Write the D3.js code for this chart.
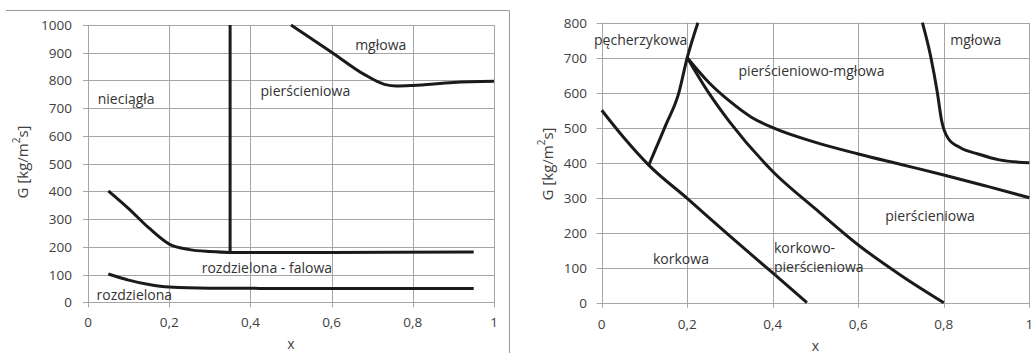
<!DOCTYPE html>
<html><head><meta charset="utf-8">
<script src="https://cdn.jsdelivr.net/npm/d3@7"></script>
<style>body{margin:0;background:#fff}svg{display:block}text{font-family:"Open Sans","Noto Sans",sans-serif}</style>
</head><body><svg id="c" width="1035" height="353"></svg>
<script>
// ---- data ----
const xTicks = [0, 0.2, 0.4, 0.6, 0.8, 1];
const leftYTicks = [0, 100, 200, 300, 400, 500, 600, 700, 800, 900, 1000];
const rightYTicks = [0, 100, 200, 300, 400, 500, 600, 700, 800];

// left chart boundaries
const leftSeparated = [[0.05,102],[0.1,80],[0.15,64],[0.2,55],[0.3,51],[0.5,50],[0.7,50],[0.95,50]];
const leftWavy = [[0.05,402],[0.1,338],[0.15,268],[0.2,210],[0.25,190],[0.3,183],[0.35,180],[0.6,180],[0.95,181]];
const leftVertical = [[0.35,1000],[0.35,180]];
const leftMist = [[0.5,1000],[0.6,902],[0.68,822],[0.73,786],[0.76,780],[0.8,782],[0.9,793],[1,797]];

// right chart boundaries
const rightSlug = [[0,550],[0.05,474],[0.11,393],[0.2,298],[0.3,190],[0.4,85],[0.48,0]];
const rightBubble = [[0.11,393],[0.15,508],[0.18,598],[0.2,700],[0.225,800]];
const rightAnnularMist = [[0.2,700],[0.25,630],[0.3,575],[0.35,530],[0.4,500],[0.5,458],[0.6,425],[0.7,395],[0.8,365],[0.9,333],[1,300]];
const rightSlugAnnular = [[0.2,700],[0.25,600],[0.3,515],[0.4,375],[0.5,268],[0.6,165],[0.7,78],[0.8,0]];
const rightMist = [[0.75,800],[0.77,700],[0.785,600],[0.795,520],[0.81,470],[0.84,442],[0.88,425],[0.93,408],[1,400]];

const leftLabels = [
  {t:"nieciągła", x:0.024, y:735},
  {t:"pierścieniowa", x:0.425, y:762},
  {t:"mgłowa", x:0.658, y:930},
  {t:"rozdzielona - falowa", x:0.28, y:127},
  {t:"rozdzielona", x:0.021, y:27}
];
const rightLabels = [
  {t:"pęcherzykowa", x:-0.018, y:752},
  {t:"pierścieniowo-mgłowa", x:0.32, y:663},
  {t:"mgłowa", x:0.815, y:752},
  {t:"pierścieniowa", x:0.663, y:250},
  {t:"korkowo-", x:0.403, y:159},
  {t:"pierścieniowa", x:0.403, y:103},
  {t:"korkowa", x:0.12, y:127}
];

const svg = d3.select("#c");
const GRID = "#a6a6a6", TXT = "#404040", LAB = "#333333", LINE = "#1a1a1a";
const fmt = d => d3.format(".1f")(d).replace(".0","").replace(".", ",");

// left frame
svg.append("path").attr("d","M6,10.5H509.5V353").attr("fill","none").attr("stroke","#9a9a9a").attr("stroke-width",1);

function chart(cfg){
  const x = d3.scaleLinear().domain([0,1]).range(cfg.xr);
  const y = d3.scaleLinear().domain([0,cfg.ymax]).range(cfg.yr);
  const g = svg.append("g");
  // grid
  g.selectAll(".vg").data(xTicks).join("line")
    .attr("x1",d=>Math.round(x(d))+0.5).attr("x2",d=>Math.round(x(d))+0.5)
    .attr("y1",y(cfg.ymax)).attr("y2",y(0)+5).attr("stroke",GRID);
  g.selectAll(".hg").data(cfg.yTicks).join("line")
    .attr("y1",d=>Math.round(y(d))+0.5).attr("y2",d=>Math.round(y(d))+0.5)
    .attr("x1",x(0)-5).attr("x2",x(1)).attr("stroke",GRID);
  // tick labels
  g.selectAll(".xl").data(xTicks).join("text")
    .attr("x",d=>x(d)).attr("y",cfg.xly).attr("text-anchor","middle").attr("dominant-baseline","central")
    .attr("font-size",13.5).attr("fill",TXT).text(fmt);
  g.selectAll(".yl").data(cfg.yTicks).join("text")
    .attr("x",cfg.ylx).attr("y",d=>y(d)).attr("text-anchor","end").attr("dominant-baseline","central")
    .attr("font-size",13.5).attr("fill",TXT).text(d=>d);
  // axis titles
  g.append("text").attr("x",(cfg.xr[0]+cfg.xr[1])/2).attr("y",cfg.xty).attr("text-anchor","middle")
    .attr("dominant-baseline","central").attr("font-size",14).attr("fill",TXT).text("x");
  const yt = g.append("text").attr("transform",`translate(${cfg.ytx},${cfg.yty}) rotate(-90)`)
    .attr("text-anchor","middle").attr("dominant-baseline","central").attr("font-size",15).attr("fill",TXT);
  yt.append("tspan").text("G [kg/m");
  yt.append("tspan").attr("dy",-6).attr("font-size",10).text("2");
  yt.append("tspan").attr("dy",6).text("s]");
  // curves
  const line = d3.line().x(d=>x(d[0])).y(d=>y(d[1]));
  cfg.series.forEach(s=>{
    g.append("path").attr("d",line.curve(s.curve||d3.curveMonotoneX)(s.data))
      .attr("fill","none").attr("stroke",LINE).attr("stroke-width",3).attr("stroke-linejoin","round");
  });
  // region labels
  g.selectAll(".lab").data(cfg.labels).join("text")
    .attr("x",d=>x(d.x)).attr("y",d=>y(d.y)).attr("dominant-baseline","central")
    .attr("font-size",14).attr("fill",LAB).text(d=>d.t);
}

chart({xr:[88,494], yr:[302.3,25], ymax:1000, yTicks:leftYTicks, xly:322, ylx:72, xty:343, ytx:22, yty:162,
  series:[{data:leftSeparated},{data:leftWavy},{data:leftVertical,curve:d3.curveLinear},{data:leftMist}],
  labels:leftLabels});
chart({xr:[601.7,1029.3], yr:[302.7,22.7], ymax:800, yTicks:rightYTicks, xly:324, ylx:587, xty:345, ytx:547, yty:164,
  series:[{data:rightSlug},{data:rightBubble},{data:rightAnnularMist},{data:rightSlugAnnular},{data:rightMist}],
  labels:rightLabels});
</script></body></html>
